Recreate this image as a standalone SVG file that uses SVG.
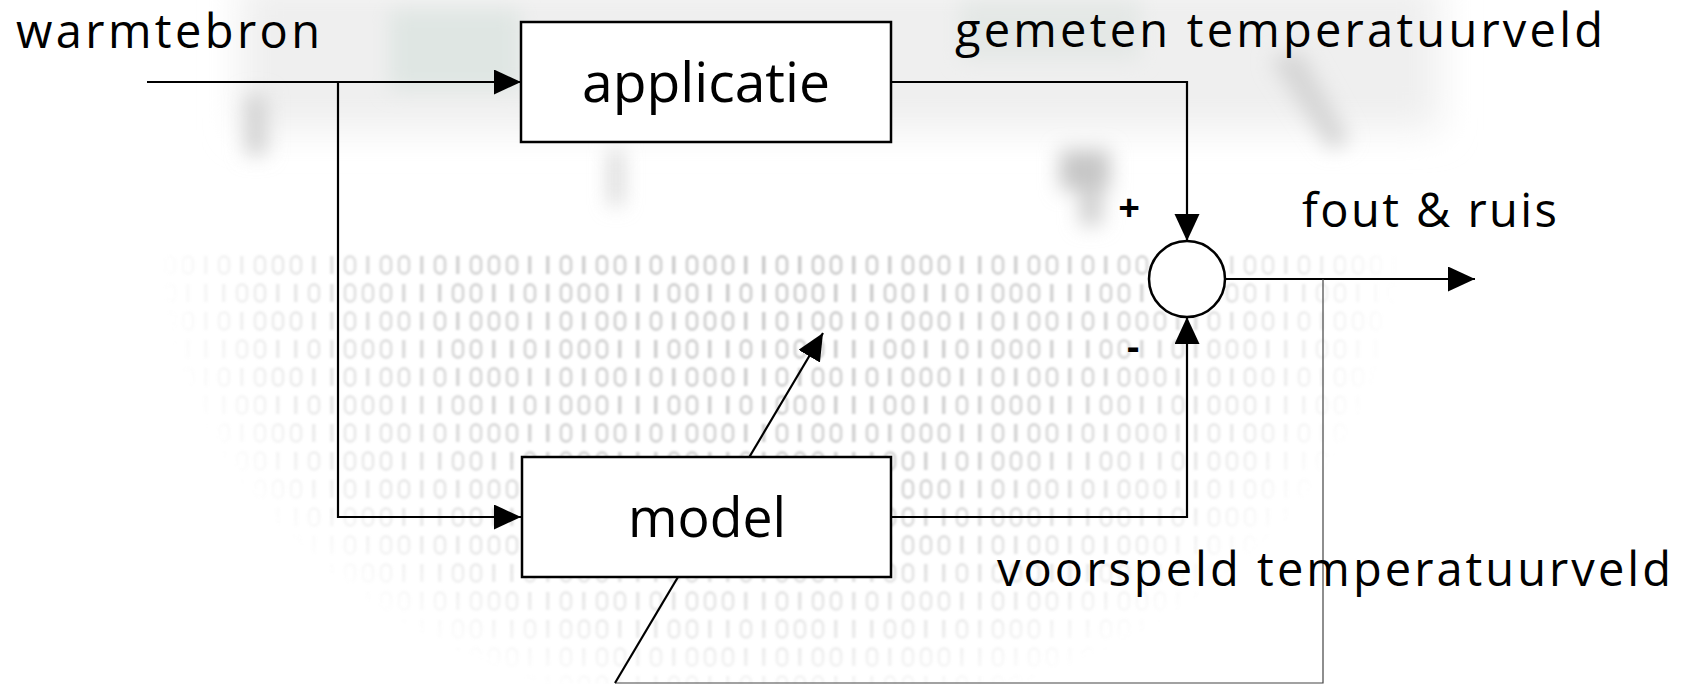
<svg xmlns="http://www.w3.org/2000/svg" width="1682" height="684" viewBox="0 0 1682 684">
  <style>
    .lbl { font-family: "Open Sans", "Noto Sans", "DejaVu Sans", sans-serif; font-size: 47px; fill: #000; }
    .big { font-family: "Open Sans", "Noto Sans", "DejaVu Sans", sans-serif; font-size: 54px; fill: #000; }
    .sign { font-family: "Open Sans", "DejaVu Sans", sans-serif; font-size: 38px; font-weight: bold; fill: #000; }
    .box { fill: #fff; stroke: #000; stroke-width: 2.5; }
    .wire { fill: none; stroke: #000; stroke-width: 2.2; }
    .thin { fill: none; stroke: #444; stroke-width: 1.2; }
    .one { fill: #bdbdbd; }
    .zero { fill: none; stroke: #c2c2c2; stroke-width: 2.8; }
  </style>
  <defs>
    <marker id="arrow" markerUnits="userSpaceOnUse" markerWidth="28" markerHeight="26" refX="27" refY="12.5" orient="auto">
      <path d="M0,0 L27,12.5 L0,25 z" fill="#000"/>
    </marker>
    <!-- faint binary-digit texture for the backdrop globe -->
    <g id="d1"><rect class="one" x="6" y="4" width="3.5" height="18"/></g>
    <g id="d0"><rect class="zero" x="3" y="4.5" width="10" height="17" rx="5"/></g>
    <pattern id="digits" patternUnits="userSpaceOnUse" width="216" height="56">
      <use href="#d1" x="0"/><use href="#d0" x="18"/><use href="#d0" x="36"/><use href="#d1" x="54"/>
      <use href="#d1" x="72"/><use href="#d0" x="90"/><use href="#d1" x="108"/><use href="#d0" x="126"/>
      <use href="#d0" x="144"/><use href="#d0" x="162"/><use href="#d1" x="180"/><use href="#d1" x="198"/>
      <use href="#d0" x="0" y="28"/><use href="#d1" x="18" y="28"/><use href="#d0" x="36" y="28"/><use href="#d0" x="54" y="28"/>
      <use href="#d0" x="72" y="28"/><use href="#d1" x="90" y="28"/><use href="#d1" x="108" y="28"/><use href="#d0" x="126" y="28"/>
      <use href="#d1" x="144" y="28"/><use href="#d0" x="162" y="28"/><use href="#d0" x="180" y="28"/><use href="#d1" x="198" y="28"/>
    </pattern>
    <radialGradient id="globeFade" cx="780" cy="250" r="620" gradientUnits="userSpaceOnUse" gradientTransform="translate(780 250) scale(1 0.76) translate(-780 -250)">
      <stop offset="0" stop-color="#fff" stop-opacity="0.8"/>
      <stop offset="0.55" stop-color="#fff" stop-opacity="0.65"/>
      <stop offset="0.85" stop-color="#fff" stop-opacity="0.28"/>
      <stop offset="1" stop-color="#fff" stop-opacity="0"/>
    </radialGradient>
    <mask id="globeMask">
      <rect x="0" y="248" width="1682" height="436" fill="url(#globeFade)"/>
    </mask>
    <filter id="grain" x="0" y="0" width="100%" height="100%">
      <feGaussianBlur stdDeviation="0.9"/>
    </filter>
    <filter id="soft" x="-50%" y="-50%" width="200%" height="200%">
      <feGaussianBlur stdDeviation="10"/>
    </filter>
    <filter id="haze" x="-20%" y="-50%" width="140%" height="200%">
      <feGaussianBlur stdDeviation="18"/>
    </filter>
  </defs>

  <rect width="1682" height="684" fill="#fff"/>

  <!-- backdrop: blurred photo smudges and binary globe -->
  <g id="backdrop">
    <rect x="240" y="-20" width="1200" height="150" fill="#efefef" filter="url(#haze)"/>
    <g filter="url(#soft)">
      <rect x="390" y="10" width="130" height="80" fill="#dfe6e3"/>
      <rect x="960" y="0" width="180" height="60" fill="#e4e8e6"/>
      <rect x="245" y="95" width="22" height="60" fill="#d2d2d2"/>
      <rect x="610" y="150" width="12" height="55" fill="#cfcfcf"/>
      <rect x="1060" y="150" width="50" height="40" fill="#c6c6c6"/>
      <rect x="1080" y="185" width="22" height="40" fill="#cdcdcd"/>
      <path d="M1270,60 L1300,50 L1350,140 L1330,150 z" fill="#d6d6d6"/>
    </g>
    <g filter="url(#grain)">
      <rect x="0" y="248" width="1682" height="436" fill="url(#digits)" mask="url(#globeMask)"/>
    </g>
  </g>

  <!-- connectors -->
  <g id="connectors">
    <path class="wire" d="M147,82 H521" marker-end="url(#arrow)"/>
    <path class="wire" d="M338,82 V517 H521" marker-end="url(#arrow)"/>
    <path class="wire" d="M891,82 H1187 V241" marker-end="url(#arrow)"/>
    <path class="wire" d="M891,517 H1187 V317" marker-end="url(#arrow)"/>
    <path class="wire" d="M1225,279 H1475" marker-end="url(#arrow)"/>
    <path class="thin" d="M1323,279 V683 H615"/>
    <path class="wire" d="M615,683 L823,333" marker-end="url(#arrow)"/>
  </g>

  <g id="node-applicatie">
    <rect class="box" x="521" y="22" width="370" height="120"/>
    <text class="big" x="582" y="102" textLength="248" lengthAdjust="spacingAndGlyphs">applicatie</text>
  </g>

  <g id="node-model">
    <rect class="box" x="522" y="457" width="369" height="120"/>
    <text class="big" x="628" y="537" textLength="158" lengthAdjust="spacingAndGlyphs">model</text>
  </g>

  <g id="node-sum">
    <circle class="box" cx="1187" cy="279" r="38"/>
    <text class="sign" x="1129" y="221" text-anchor="middle">+</text>
    <text class="sign" x="1133" y="360" text-anchor="middle">-</text>
  </g>

  <g id="labels">
    <text class="lbl" x="16" y="48" textLength="304" lengthAdjust="spacing">warmtebron</text>
    <text class="lbl" x="955" y="47" textLength="648" lengthAdjust="spacing">gemeten temperatuurveld</text>
    <text class="lbl" x="1302" y="227" textLength="255" lengthAdjust="spacing">fout &amp; ruis</text>
    <text class="lbl" x="997" y="586" textLength="674" lengthAdjust="spacing">voorspeld temperatuurveld</text>
  </g>
</svg>
